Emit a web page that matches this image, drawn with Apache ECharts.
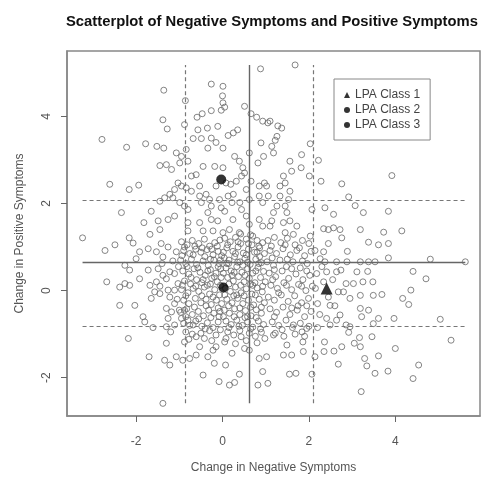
<!DOCTYPE html>
<html>
<head>
<meta charset="utf-8">
<script src="https://cdn.jsdelivr.net/npm/echarts@6/dist/echarts.min.js"></script>
<style>
  html, body { margin: 0; padding: 0; background: #fff; }
  #chart { width: 482px; height: 479px; }
</style>
</head>
<body>
<div id="chart"></div>
<script>
// tick positions
const xTicks = [-2, 0, 2, 4]
const yTicks = [-2, 0, 2, 4]

// reference lines: mean (solid) and mean +/- 1 SD (dashed)
const refX = { mean: 0.61, low: -0.86, high: 2.10 }
const refY = { mean: 0.65, low: -0.81, high: 2.08 }

// LPA class centroids [neg change, pos change]
const classNames = ['LPA Class 1', 'LPA Class 2', 'LPA Class 3']
const classCentroids = [[2.41, 0.05], [-0.03, 2.55], [0.02, 0.07]]

// individual observations [change in negative, change in positive]
const points = [
  [-1.36,4.60],[-0.26,4.74],[0.01,4.69],[0.0,4.47],[0.01,4.31],[-0.86,4.36],[0.88,5.09],
  [-2.79,3.47],[-2.22,3.29],[-1.78,3.37],[-1.52,3.31],[-1.36,3.27],[-1.38,3.92],[-1.28,3.71],[-0.88,3.81],
  [-0.59,3.98],[-0.47,4.06],[-0.26,4.13],[-0.03,4.14],[0.05,4.21],[0.51,4.23],[0.66,4.06],[0.79,3.98],
  [0.93,3.89],[-0.11,3.77],[-0.35,3.73],[-0.57,3.69],[0.13,3.56],[0.25,3.62],[0.35,3.69],[-0.68,3.49],
  [-0.49,3.49],[-0.26,3.50],[-0.15,3.40],[-0.34,3.27],[0.01,3.27],[-1.07,3.16],[-0.95,3.08],[-0.84,3.24],
  [-0.80,2.97],[-0.99,2.93],[-1.45,2.87],[-1.30,2.89],[-1.18,2.78],[-0.45,2.85],[-0.18,2.85],[0.01,2.82],
  [0.28,3.08],[0.39,2.97],[0.47,2.82],[0.62,3.16],[0.89,3.39],[0.82,2.93],[0.95,3.08],[-0.72,2.63],
  [-0.61,2.66],[-2.61,2.44],[-2.16,2.32],[-1.94,2.42],[-1.03,2.47],[-0.95,2.40],[-1.11,2.32],[-0.84,2.36],
  [-0.72,2.28],[-0.53,2.40],[-0.15,2.40],[0.08,2.47],[0.19,2.44],[0.32,2.51],[0.44,2.63],[0.51,2.70],
  [0.55,2.32],[0.66,2.51],[0.85,2.40],[0.97,2.47],[-1.22,2.21],[-1.34,2.13],[-1.45,2.05],[-1.15,2.13],
  [-0.99,2.02],[-0.88,1.94],[-0.80,1.86],[-0.53,2.17],[-0.38,2.21],[-0.30,2.09],[-0.07,2.09],[0.13,2.17],
  [0.25,2.21],[0.40,2.02],[-0.26,1.94],[-0.49,2.02],[-0.03,1.90],[0.22,2.02],[0.62,2.09],[0.85,2.17],
  [0.93,2.02],[-2.34,1.79],[-1.65,1.82],[-1.82,1.56],[-1.49,1.60],[-1.45,1.40],[-1.68,1.29],[-3.24,1.21],
  [-2.16,1.21],[-1.26,1.63],[-1.11,1.71],[-0.80,1.56],[-0.80,1.37],[-0.53,1.56],[-0.34,1.79],[-0.26,1.63],
  [-0.11,1.60],[0.05,1.82],[0.24,1.63],[0.44,1.86],[0.55,1.71],[0.62,1.52],[0.85,1.63],[0.93,1.48],
  [-0.45,1.37],[-0.22,1.37],[0.01,1.33],[0.16,1.40],[0.39,1.33],[0.70,1.25],
  [1.68,5.18],[2.03,3.37],[2.22,2.99],[2.28,2.51],[2.76,2.45],[3.92,2.64],[2.92,2.15],[3.07,1.95],
  [3.26,1.79],[3.84,1.82],[2.37,1.90],[2.57,1.75],[3.19,1.40],[3.73,1.34],[4.15,1.37],[2.34,1.42],
  [2.45,1.40],[2.57,1.44],[2.72,1.40],[2.76,1.21],[2.07,1.86],[2.03,1.25],[1.83,3.12],[1.82,2.82],
  [1.56,2.97],[1.60,2.74],[2.01,2.63],[1.41,2.63],[1.45,2.47],[1.33,2.40],[1.56,2.28],[1.33,2.17],
  [1.53,2.09],[1.45,1.94],[1.49,1.79],[1.18,1.79],[1.14,1.60],[1.41,1.56],[1.56,1.60],[1.72,1.48],
  [1.45,1.33],[1.64,1.29],[1.10,3.89],[1.37,3.73],[1.26,3.54],[1.14,3.31],[1.18,3.16],[1.02,2.40],
  [1.06,2.17],[1.10,1.48],[1.26,1.94],[1.05,3.85],[1.28,3.78],[1.22,3.45],
  [-2.72,0.92],[-2.49,1.05],[-2.07,1.09],[-1.92,0.89],[-2.26,0.58],[-2.0,0.73],[-2.15,0.47],[-2.68,0.20],
  [-2.38,0.08],[-2.26,0.16],[-2.15,0.12],[-2.38,-0.34],[-2.03,-0.34],[-1.84,-0.60],[-1.80,-0.72],[-2.18,-1.10],
  [-1.70,-1.52],[-1.92,0.27],[-1.72,0.47],[-1.49,0.50],[-1.38,0.35],[-1.68,0.12],[-1.53,0.20],[-1.57,-0.03],
  [-1.65,-0.18],[-1.45,-0.07],[-1.26,0.01],[-1.22,-0.15],[-1.11,0.01],[-1.03,0.16],[-1.11,0.39],[-1.22,0.43],
  [-1.30,0.27],[-1.72,0.96],[-1.53,0.89],[-1.42,1.08],[-1.38,0.77],[-1.26,1.0],[-1.07,0.89],[-1.30,-0.41],
  [-1.18,-0.49],[-1.11,-0.30],[-1.26,-0.64],[-1.11,-0.79],[-1.30,-0.83],[-1.61,-0.85],[-0.95,-0.64],[-0.88,-0.45],
  [-0.80,-0.68],[-0.68,-0.79],[-1.30,-1.21],[-1.34,-1.60],[-1.22,-1.71],[-1.07,-1.52],[-0.92,-1.60],[-0.88,-1.18],
  [-0.76,-1.56],[-0.61,-1.48],[-0.53,-1.29],[-0.34,-1.52],[-0.45,-1.94],[-0.22,-1.37],[-0.15,-1.29],[-0.19,-1.67],
  [0.07,-1.71],[-0.08,-2.09],[0.16,-2.17],[0.28,-2.11],[0.39,-1.92],[0.51,-1.33],[0.62,-1.37],[0.22,-1.44],
  [-0.61,-1.06],[-0.42,-1.10],[0.08,-1.10],[0.43,-1.06],[0.82,-2.17],[0.93,-1.86],[1.05,-2.13],[0.85,-1.56],
  [-1.38,-2.59],
  [5.62,0.66],[4.81,0.72],[4.41,0.44],[4.71,0.27],[4.36,0.01],[4.17,-0.18],[4.31,-0.32],[5.04,-0.66],
  [5.29,-1.14],[4.00,-1.33],[4.54,-1.71],[4.41,-2.02],[3.83,-1.85],[3.53,-1.90],[3.34,-1.73],[3.21,-2.32],
  [3.61,-1.50],[3.29,-1.56],[3.46,-1.06],[3.17,-1.08],[3.19,-1.29],[3.05,-1.21],[2.92,-0.96],[2.76,-1.29],
  [2.58,-1.39],[2.68,-1.69],[2.36,-1.18],[2.35,-1.40],[2.14,-1.52],[2.07,-1.92],[1.70,-1.90],[1.55,-1.92],
  [1.87,-1.40],[1.60,-1.48],[1.86,-1.18],[1.84,-0.95],[1.95,-0.87],[1.64,-0.79],[1.18,-1.02],[1.02,-1.52],
  [1.49,-1.25],[1.41,-1.48],[2.41,-0.64],[2.49,-0.79],[2.64,-0.68],[2.72,-0.56],[2.86,-0.79],[2.95,-0.83],
  [3.22,-0.60],[3.49,-0.76],[3.61,-0.64],[3.97,-0.64],[3.38,-0.45],[3.19,-0.41],[2.95,-0.18],[3.19,-0.11],
  [3.49,-0.11],[3.69,-0.09],[3.48,0.20],[3.25,0.20],[3.03,0.16],[2.86,0.16],[2.80,-0.03],[2.68,-0.03],
  [2.45,-0.15],[2.49,-0.34],[2.64,0.43],[2.74,0.47],[2.88,0.66],[3.19,0.66],[3.38,0.66],[3.53,0.66],
  [3.84,0.75],[3.11,0.43],[3.36,0.44],[3.38,1.11],[3.61,1.05],[3.84,1.08],[2.89,0.90],[2.45,1.08],
  [2.34,0.89],[2.14,0.92],[2.26,0.73],[2.37,0.66],[2.64,0.66],[2.41,0.43],[2.34,0.20],[2.18,0.39],
  [2.20,-0.30],[2.25,-0.55],[2.15,0.05],[2.30,0.55],[2.55,0.25],[2.60,-0.35],[2.20,-0.85],
  [-0.95,1.12],[-0.82,1.05],[-0.70,1.15],[-0.55,1.08],[-0.42,1.18],[-0.30,1.02],[-0.18,1.10],[-0.06,1.16],
  [-0.90,0.92],[-0.76,0.85],[-0.62,0.95],[-0.50,0.88],[-0.36,0.94],[-0.22,0.82],[-0.10,0.90],[-0.02,0.80],
  [-0.97,0.70],[-0.85,0.62],[-0.72,0.72],[-0.60,0.60],[-0.45,0.68],[-0.33,0.58],[-0.20,0.70],[-0.08,0.62],
  [-0.92,0.45],[-0.78,0.38],[-0.66,0.50],[-0.52,0.42],[-0.40,0.35],[-0.28,0.48],[-0.15,0.40],[-0.04,0.50],
  [-0.88,0.22],[-0.74,0.15],[-0.60,0.25],[-0.48,0.18],[-0.35,0.12],[-0.25,0.28],[-0.12,0.20],[-0.03,0.30],
  [-0.95,0.02],[-0.80,-0.05],[-0.68,0.05],[-0.55,-0.02],[-0.42,0.08],[-0.30,-0.08],[-0.18,0.02],[-0.07,-0.10],
  [-0.90,-0.22],[-0.78,-0.30],[-0.63,-0.18],[-0.50,-0.28],[-0.38,-0.20],[-0.26,-0.32],[-0.14,-0.22],[-0.02,-0.30],
  [-0.97,-0.50],[-0.83,-0.42],[-0.70,-0.55],[-0.56,-0.48],[-0.44,-0.58],[-0.32,-0.45],[-0.20,-0.52],[-0.08,-0.60],
  [-0.90,-0.75],[-0.76,-0.80],[-0.62,-0.70],[-0.48,-0.82],[-0.35,-0.74],[-0.22,-0.85],[-0.10,-0.72],
  [-0.85,-0.95],[-0.70,-1.00],[-0.50,-0.98],[-0.30,-0.92],[-0.15,-1.02],[-0.05,-0.90],
  [0.05,1.20],[0.18,1.12],[0.30,1.22],[0.42,1.08],[0.55,1.18],[0.68,1.05],[0.80,1.15],[0.93,1.10],
  [0.10,0.98],[0.24,0.90],[0.36,1.00],[0.48,0.86],[0.60,0.95],[0.74,0.88],[0.86,0.98],[0.97,0.85],
  [0.04,0.75],[0.15,0.70],[0.28,0.78],[0.40,0.66],[0.52,0.74],[0.64,0.60],[0.77,0.72],[0.90,0.64],
  [0.08,0.52],[0.20,0.45],[0.33,0.55],[0.45,0.42],[0.58,0.50],[0.70,0.40],[0.82,0.53],[0.95,0.44],
  [0.12,0.30],[0.25,0.22],[0.37,0.32],[0.50,0.20],[0.62,0.28],[0.75,0.18],[0.88,0.30],[0.99,0.20],
  [0.07,0.05],[0.18,-0.02],[0.30,0.08],[0.43,-0.05],[0.55,0.04],[0.68,-0.08],[0.80,0.06],[0.92,-0.03],
  [0.10,-0.20],[0.22,-0.28],[0.35,-0.18],[0.47,-0.30],[0.60,-0.22],[0.72,-0.33],[0.85,-0.20],[0.97,-0.28],
  [0.04,-0.45],[0.16,-0.52],[0.28,-0.42],[0.40,-0.55],[0.53,-0.46],[0.66,-0.58],[0.78,-0.44],[0.90,-0.52],
  [0.08,-0.70],[0.20,-0.78],[0.33,-0.68],[0.46,-0.80],[0.58,-0.72],[0.70,-0.84],[0.83,-0.70],[0.95,-0.78],
  [0.12,-0.95],[0.26,-1.02],[0.40,-0.92],[0.62,-0.98],[0.76,-1.05],[0.90,-0.96],
  [0.14,0.62],[0.47,0.58],[0.70,0.12],[0.33,-0.10],[0.58,-0.60],[0.22,0.35],[0.86,0.78],[0.42,1.30],[0.65,1.28],
  [1.05,1.15],[1.20,1.22],[1.35,1.10],[1.50,1.20],[1.68,1.05],[1.85,1.15],[2.00,1.08],
  [1.10,0.92],[1.25,0.85],[1.40,0.96],[1.57,0.82],[1.72,0.92],[1.90,0.80],[2.05,0.90],
  [1.03,0.66],[1.18,0.58],[1.33,0.70],[1.48,0.55],[1.63,0.66],[1.80,0.52],[1.96,0.62],
  [1.08,0.40],[1.23,0.32],[1.38,0.45],[1.53,0.28],[1.70,0.38],[1.86,0.25],[2.02,0.35],
  [1.12,0.12],[1.27,0.05],[1.42,0.18],[1.60,0.02],[1.76,0.14],[1.93,0.00],[2.08,0.10],
  [1.06,-0.15],[1.20,-0.22],[1.36,-0.10],[1.52,-0.25],[1.67,-0.12],[1.83,-0.28],[1.99,-0.18],
  [1.10,-0.42],[1.25,-0.50],[1.40,-0.38],[1.56,-0.55],[1.73,-0.45],[1.90,-0.60],[2.05,-0.48],
  [1.15,-0.72],[1.30,-0.80],[1.47,-0.68],[1.62,-0.85],[1.80,-0.75],[2.00,-0.82],
  [1.22,-0.98],[1.42,-1.05],[1.68,-1.00],
  [-0.88,1.00],[-0.64,1.02],[-0.47,0.98],[-0.25,0.95],[-0.12,1.02],[-0.94,0.80],[-0.68,0.82],[-0.41,0.78],
  [-0.28,0.72],[-0.05,0.70],[-0.82,0.55],[-0.57,0.52],[-0.34,0.45],[-0.10,0.55],[-0.73,0.30],[-0.45,0.25],
  [-0.19,0.32],[-0.93,0.12],[-0.62,0.10],[-0.28,0.15],[-0.05,0.12],[-0.85,-0.12],[-0.48,-0.12],[-0.22,-0.15],
  [-0.65,-0.38],[-0.38,-0.35],[-0.10,-0.40],[-0.85,-0.60],[-0.55,-0.65],[-0.27,-0.62],[-0.06,-0.48],[-0.40,-0.88],
  [-0.78,-1.12],[-0.25,-1.15],
  [0.12,1.05],[0.36,1.12],[0.60,1.08],[0.84,1.02],[0.02,0.88],[0.30,0.85],[0.55,0.82],[0.80,0.88],
  [0.10,0.62],[0.35,0.65],[0.58,0.65],[0.84,0.62],[0.02,0.40],[0.27,0.42],[0.52,0.35],[0.77,0.45],
  [0.15,0.15],[0.42,0.12],[0.65,0.15],[0.93,0.10],[0.05,-0.10],[0.26,-0.12],[0.50,-0.12],[0.76,-0.10],
  [0.14,-0.35],[0.40,-0.40],[0.65,-0.38],[0.90,-0.38],[0.02,-0.60],[0.27,-0.60],[0.52,-0.62],[0.78,-0.62],
  [0.15,-0.85],[0.38,-0.82],[0.65,-0.88],[0.88,-0.88],[0.05,-1.18],[0.30,-1.22],[0.55,-1.15],[0.80,-1.20],
  [0.98,-1.10],
  [1.13,1.02],[1.45,1.05],[1.78,0.98],[1.15,0.75],[1.50,0.72],[1.85,0.68],[1.20,0.48],[1.60,0.50],
  [1.95,0.45],[1.16,0.25],[1.48,0.12],[1.83,0.10],[1.30,-0.05],[1.75,-0.35],[1.20,-0.60],[1.60,-0.40],
  [1.95,-0.35],[1.38,-0.90],[1.90,-1.05],
  [-1.02,0.55],[-1.05,-0.20],[-1.00,-0.45],[-1.15,0.68],[-1.40,0.62],[-1.45,0.10],[-1.20,-0.95]
]

const xs = points.map(p => p[0])
const ys = points.map(p => p[1])
const xLo = Math.min(...xs), xHi = Math.max(...xs)
const yLo = Math.min(...ys), yHi = Math.max(...ys)

const solid = { type: 'solid', color: '#666', width: 1.4 }
const dashed = { type: [4, 3], color: '#777', width: 1.2 }
function hLine(y, style) {
  return [{ coord: [xLo, y], lineStyle: style }, { coord: [xHi, y] }]
}
function vLine(x, style) {
  return [{ coord: [x, yLo], lineStyle: style }, { coord: [x, yHi] }]
}

const axisFont = { fontFamily: 'Liberation Sans', fontSize: 12, color: '#555' }
const classSymbols = ['triangle', 'circle', 'circle']
const classSizes = [12, 10, 10]

const myChart = echarts.init(document.getElementById('chart'))
const option = {
  animation: false,
  title: {
    text: 'Scatterplot of Negative Symptoms and Positive Symptoms',
    left: 61,
    top: 9,
    textStyle: { fontFamily: 'Liberation Sans', fontSize: 14.8, fontWeight: 'bold', color: '#111' }
  },
  legend: {
    orient: 'vertical',
    left: 334,
    top: 79,
    padding: [9, 10, 8, 10],
    itemGap: 1,
    itemWidth: 6,
    itemHeight: 6,
    borderColor: '#888',
    borderWidth: 1,
    textStyle: { fontFamily: 'Liberation Sans', fontSize: 12, color: '#444', lineHeight: 14 },
    data: classNames.map((n, i) => ({ name: n, icon: classSymbols[i] }))
  },
  grid: { left: 67, right: 2, top: 51, bottom: 61, show: true, borderColor: '#888', borderWidth: 1.5 },
  xAxis: {
    type: 'value',
    min: -3.6,
    max: 5.96,
    name: 'Change in Negative Symptoms',
    nameLocation: 'middle',
    nameGap: 46,
    nameTextStyle: axisFont,
    axisLine: { show: true, onZero: false, lineStyle: { color: '#888', width: 1.5 } },
    splitLine: { show: false },
    axisTick: { show: true, length: 6, customValues: xTicks, lineStyle: { color: '#666' } },
    axisLabel: { ...axisFont, margin: 20, customValues: xTicks }
  },
  yAxis: {
    type: 'value',
    min: -2.88,
    max: 5.5,
    name: 'Change in Positive Symptoms',
    nameLocation: 'middle',
    nameGap: 41,
    nameTextStyle: axisFont,
    axisLine: { show: true, onZero: false, lineStyle: { color: '#888', width: 1.5 } },
    splitLine: { show: false },
    axisTick: { show: true, length: 6, customValues: yTicks, lineStyle: { color: '#666' } },
    axisLabel: { ...axisFont, margin: 14, rotate: 90, customValues: yTicks }
  },
  series: [
    {
      name: 'obs',
      type: 'scatter',
      silent: true,
      symbol: 'circle',
      symbolSize: 6,
      itemStyle: { color: 'rgba(0,0,0,0)', borderColor: '#666', borderWidth: 1 },
      data: points,
      markLine: {
        silent: true,
        symbol: 'none',
        label: { show: false },
        data: [
          hLine(refY.mean, solid), hLine(refY.low, dashed), hLine(refY.high, dashed),
          vLine(refX.mean, solid), vLine(refX.low, dashed), vLine(refX.high, dashed)
        ]
      }
    },
    ...classNames.map((n, i) => ({
      name: n,
      type: 'scatter',
      symbol: classSymbols[i],
      symbolSize: classSizes[i],
      itemStyle: { color: '#000' },
      z: 5,
      data: [classCentroids[i]]
    }))
  ]
}
myChart.setOption(option)
</script>
</body>
</html>
